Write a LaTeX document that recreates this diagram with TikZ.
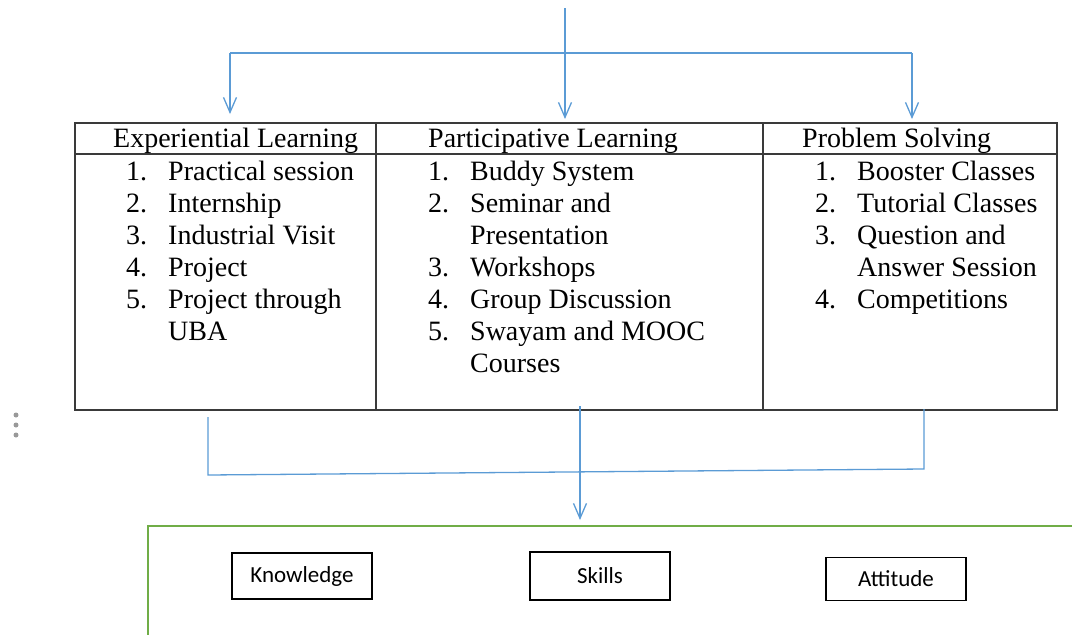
\documentclass[tikz,border=0pt]{standalone}
\usepackage{fontspec}
\setmainfont{Liberation Serif}
\newfontfamily\calib{Carlito}
\usetikzlibrary{arrows.meta}
\definecolor{wblue}{HTML}{5B9BD5}
\definecolor{wgreen}{HTML}{70AD47}
\definecolor{tline}{HTML}{3A3A3A}
\tikzset{
  conn/.style={draw=wblue, line width=1.3pt},
  arr/.style={conn, -{Straight Barb[length=15pt,width=13pt,line width=1.3pt]}},
  cell/.style={draw=tline, line width=1.6pt, rectangle, inner sep=0pt, anchor=north west},
  head/.style={inner sep=0pt, anchor=base west, font=\fontsize{28}{32}\selectfont},
  lst/.style={inner sep=0pt, anchor=base west, font=\fontsize{28}{32}\selectfont, align=left},
  kbox/.style={draw=black, line width=1.4pt, rectangle, minimum width=140pt, minimum height=46pt, inner sep=0pt, font=\calib\fontsize{23}{27}\selectfont},
  dot/.style={circle, fill=gray!80, inner sep=0pt, minimum size=5pt}
}
\newcommand{\itemlist}[1]{\begin{tabular}[t]{@{}p{42pt}@{}l@{}}#1\end{tabular}}
\begin{document}
\begin{tikzpicture}[x=1pt,y=-1pt]
\useasboundingbox (0,0) rectangle (1072,635);
% table
\node[cell, minimum width=301pt, minimum height=287pt] (colA) at (74,122) {};
\node[cell, minimum width=387pt, minimum height=287pt] (colB) at (375,122) {};
\node[cell, minimum width=294pt, minimum height=287pt] (colC) at (762,122) {};
\draw[draw=tline, line width=1.6pt] (colA.north west |- 0,154) -- (colC.north east |- 0,154);
% headers
\node[head] (hA) at (113,147) {Experiential Learning};
\node[head] (hB) at (428,147) {Participative Learning};
\node[head] (hC) at (802,147) {Problem Solving};
% lists
\node[lst] (lA) at (126,180) {\itemlist{1. & Practical session\\ 2. & Internship\\ 3. & Industrial Visit\\ 4. & Project\\ 5. & Project through\\ & UBA}};
\node[lst] (lB) at (428,180) {\itemlist{1. & Buddy System\\ 2. & Seminar and\\ & Presentation\\ 3. & Workshops\\ 4. & Group Discussion\\ 5. & Swayam and MOOC\\ & Courses}};
\node[lst] (lC) at (815,180) {\itemlist{1. & Booster Classes\\ 2. & Tutorial Classes\\ 3. & Question and\\ & Answer Session\\ 4. & Competitions}};
% top connectors
\coordinate (src) at (565,8);
\coordinate (hub) at (565,53);
\coordinate (hl) at (230,53);
\coordinate (hr) at (912,53);
\coordinate (tA) at (230,114);
\coordinate (tB) at (565,119);
\coordinate (tC) at (912,119);
\draw[conn] (src) -- (hub);
\draw[conn] (hl) -- (hr);
\draw[arr] (hl) -- (tA);
\draw[arr] (hub) -- (tB);
\draw[arr] (hr) -- (tC);
% bottom connectors
\coordinate (bA) at (208,417);
\coordinate (bA2) at (208,475);
\coordinate (bC) at (924,409);
\coordinate (bC2) at (924,469);
\coordinate (bB) at (580,406);
\coordinate (bB2) at (580,520);
\draw[conn] (bA) -- (bA2) -- (bC2) -- (bC);
\draw[arr] (bB) -- (bB2);
% outcome frame
\draw[draw=wgreen, line width=2.8pt] (148,640) -- (148,526) -- (1080,526);
% outcome boxes
\node[kbox] (know) at (302,576) {Knowledge};
\node[kbox, minimum height=48pt] (skill) at (600,576) {Skills};
\node[kbox, minimum height=43pt] (att) at (896,579) {Attitude};
% side dots
\node[dot] (d1) at (16,415) {};
\node[dot] (d2) at (16,425) {};
\node[dot] (d3) at (16,435) {};
\end{tikzpicture}
\end{document}
